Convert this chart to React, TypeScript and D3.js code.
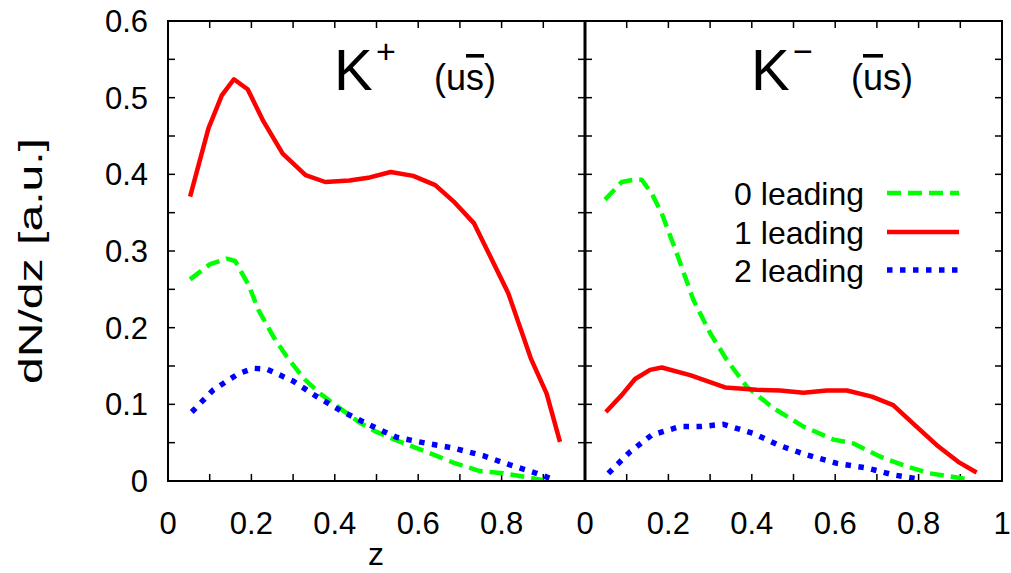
import React from "react";
import * as d3 from "d3";

// K+ (left panel) series: [z, dN/dz]
const kPlusLeading0: [number, number][] = [
  [0.053, 0.263], [0.101, 0.283], [0.141, 0.29], [0.161, 0.287], [0.193, 0.256],
  [0.217, 0.223], [0.253, 0.188], [0.285, 0.162], [0.325, 0.134], [0.365, 0.114],
  [0.412, 0.095], [0.46, 0.076], [0.5, 0.064], [0.548, 0.053], [0.62, 0.038],
  [0.684, 0.024], [0.748, 0.013], [0.804, 0.01], [0.86, 0.005], [0.9, 0.001],
];
const kPlusLeading1: [number, number][] = [
  [0.053, 0.371], [0.097, 0.46], [0.129, 0.503], [0.158, 0.524], [0.191, 0.511],
  [0.229, 0.469], [0.275, 0.427], [0.33, 0.399], [0.377, 0.39], [0.435, 0.392],
  [0.484, 0.396], [0.534, 0.403], [0.588, 0.398], [0.641, 0.386], [0.688, 0.363],
  [0.734, 0.336], [0.816, 0.245], [0.87, 0.16], [0.908, 0.114], [0.94, 0.051],
];
const kPlusLeading2: [number, number][] = [
  [0.057, 0.09], [0.109, 0.119], [0.169, 0.14], [0.205, 0.147], [0.237, 0.146],
  [0.301, 0.13], [0.357, 0.11], [0.42, 0.09], [0.484, 0.073], [0.548, 0.057],
  [0.612, 0.05], [0.684, 0.043], [0.756, 0.033], [0.82, 0.021], [0.884, 0.01],
  [0.924, 0.002],
];

// K- (right panel) series
const kMinusLeading0: [number, number][] = [
  [0.048, 0.367], [0.088, 0.39], [0.116, 0.393], [0.136, 0.393], [0.16, 0.375],
  [0.184, 0.349], [0.22, 0.297], [0.26, 0.236], [0.3, 0.193], [0.34, 0.158],
  [0.388, 0.123], [0.452, 0.095], [0.524, 0.071], [0.596, 0.054], [0.644, 0.049],
  [0.707, 0.032], [0.771, 0.019], [0.827, 0.01], [0.911, 0.003],
];
const kMinusLeading1: [number, number][] = [
  [0.05, 0.09], [0.088, 0.112], [0.12, 0.133], [0.156, 0.145], [0.184, 0.148],
  [0.252, 0.138], [0.336, 0.122], [0.412, 0.119], [0.468, 0.118], [0.524, 0.115],
  [0.58, 0.118], [0.628, 0.118], [0.688, 0.11], [0.739, 0.099], [0.795, 0.071],
  [0.843, 0.047], [0.895, 0.025], [0.939, 0.011],
];
const kMinusLeading2: [number, number][] = [
  [0.056, 0.01], [0.108, 0.038], [0.16, 0.06], [0.228, 0.071], [0.276, 0.071],
  [0.332, 0.074], [0.404, 0.062], [0.468, 0.046], [0.532, 0.034], [0.604, 0.023],
  [0.676, 0.017], [0.739, 0.008], [0.795, 0.003],
];

const leftXTickLabels = [0, 0.2, 0.4, 0.6, 0.8];
const rightXTickLabels = [0, 0.2, 0.4, 0.6, 0.8, 1];
const yTickLabels = [0, 0.1, 0.2, 0.3, 0.4, 0.5, 0.6];
const legendLabels = ["0 leading", "1 leading", "2 leading"];

const W = 1011;
const H = 573;
const X0 = 168;
const XM = 585;
const X1 = 1002;
const Y0 = 481;
const Y1 = 21;

const FONT = "'Liberation Sans', Arial, Helvetica, sans-serif";

const styles = [
  { color: "#00ff00", dash: "14,7", width: 4.5 },
  { color: "#ff0000", dash: "none", width: 4.5 },
  { color: "#0000ff", dash: "5.5,7.5", width: 5.5 },
];

export default function App() {
  const xL = d3.scaleLinear().domain([0, 1]).range([X0, XM]);
  const xR = d3.scaleLinear().domain([0, 1]).range([XM, X1]);
  const y = d3.scaleLinear().domain([0, 0.6]).range([Y0, Y1]);

  const lineL = d3.line<[number, number]>().x((d) => xL(d[0])).y((d) => y(d[1]));
  const lineR = d3.line<[number, number]>().x((d) => xR(d[0])).y((d) => y(d[1]));

  const minorX = d3.range(0, 11).map((i) => i / 10);
  const minorY = d3.range(0, 13).map((i) => i * 0.05);
  const tl = 7;

  const leftSeries = [kPlusLeading0, kPlusLeading1, kPlusLeading2];
  const rightSeries = [kMinusLeading0, kMinusLeading1, kMinusLeading2];
  const legendY = [193, 232, 270];

  return (
    <svg
      width={W}
      height={H}
      style={{ position: "absolute", left: 0, top: 0, background: "#fff" }}
      fontFamily={FONT}
    >
      <rect x={0} y={0} width={W} height={H} fill="#fff" />
      <defs>
        <clipPath id="clipL">
          <rect x={X0} y={Y1} width={XM - X0} height={Y0 - Y1} />
        </clipPath>
        <clipPath id="clipR">
          <rect x={XM} y={Y1} width={X1 - XM} height={Y0 - Y1} />
        </clipPath>
      </defs>

      {/* ticks */}
      <g stroke="#000" strokeWidth={1.5}>
        {minorX.map((v, i) => (
          <g key={"xl" + i}>
            <line x1={xL(v)} x2={xL(v)} y1={Y0} y2={Y0 - tl} />
            <line x1={xL(v)} x2={xL(v)} y1={Y1} y2={Y1 + tl} />
            <line x1={xR(v)} x2={xR(v)} y1={Y0} y2={Y0 - tl} />
            <line x1={xR(v)} x2={xR(v)} y1={Y1} y2={Y1 + tl} />
          </g>
        ))}
        {minorY.map((v, i) => (
          <g key={"y" + i}>
            <line x1={X0} x2={X0 + tl} y1={y(v)} y2={y(v)} />
            <line x1={XM - tl} x2={XM + tl} y1={y(v)} y2={y(v)} />
            <line x1={X1 - tl} x2={X1} y1={y(v)} y2={y(v)} />
          </g>
        ))}
      </g>

      {/* series */}
      <g clipPath="url(#clipL)">
        {leftSeries.map((s, i) => (
          <path
            key={"l" + i}
            d={lineL(s) || ""}
            fill="none"
            stroke={styles[i].color}
            strokeWidth={styles[i].width}
            strokeDasharray={styles[i].dash}
            strokeLinejoin="round"
          />
        ))}
      </g>
      <g clipPath="url(#clipR)">
        {rightSeries.map((s, i) => (
          <path
            key={"r" + i}
            d={lineR(s) || ""}
            fill="none"
            stroke={styles[i].color}
            strokeWidth={styles[i].width}
            strokeDasharray={styles[i].dash}
            strokeLinejoin="round"
          />
        ))}
      </g>

      {/* frame */}
      <rect x={X0} y={Y1} width={X1 - X0} height={Y0 - Y1} fill="none" stroke="#000" strokeWidth={2} />
      <line x1={XM} x2={XM} y1={Y1} y2={Y0} stroke="#000" strokeWidth={3} />

      {/* y tick labels */}
      {yTickLabels.map((v) => (
        <text key={"yt" + v} x={148} y={y(v)} dy="0.36em" textAnchor="end" fontSize={31}>
          {String(v)}
        </text>
      ))}
      {/* x tick labels */}
      {leftXTickLabels.map((v) => (
        <text key={"xtl" + v} x={xL(v)} y={534} textAnchor="middle" fontSize={31}>
          {String(v)}
        </text>
      ))}
      {rightXTickLabels.map((v) => (
        <text key={"xtr" + v} x={xR(v)} y={534} textAnchor="middle" fontSize={31}>
          {String(v)}
        </text>
      ))}

      {/* axis titles */}
      <text x={376} y={565} textAnchor="middle" fontSize={32}>
        z
      </text>
      <text
        transform="translate(42,261) rotate(-90)"
        textAnchor="middle"
        fontSize={33}
        textLength={246}
        lengthAdjust="spacingAndGlyphs"
      >
        dN/dz [a.u.]
      </text>

      {/* panel titles */}
      <text x={334} y={90} fontSize={58}>K</text>
      <text x={376} y={63} fontSize={34}>+</text>
      <text x={434} y={90} fontSize={36}>
        (u<tspan style={{ textDecoration: "overline" }}>s</tspan>)
      </text>

      <text x={751} y={90} fontSize={58}>K</text>
      <text x={793} y={63} fontSize={34}>−</text>
      <text x={851} y={90} fontSize={36}>
        (<tspan style={{ textDecoration: "overline" }}>u</tspan>s)
      </text>

      {/* legend */}
      {legendLabels.map((lab, i) => (
        <g key={"lg" + i}>
          <text x={864} y={legendY[i]} dy="0.36em" textAnchor="end" fontSize={32}>
            {lab}
          </text>
          <line
            x1={887}
            x2={959}
            y1={legendY[i]}
            y2={legendY[i]}
            stroke={styles[i].color}
            strokeWidth={styles[i].width}
            strokeDasharray={styles[i].dash}
          />
        </g>
      ))}
    </svg>
  );
}
